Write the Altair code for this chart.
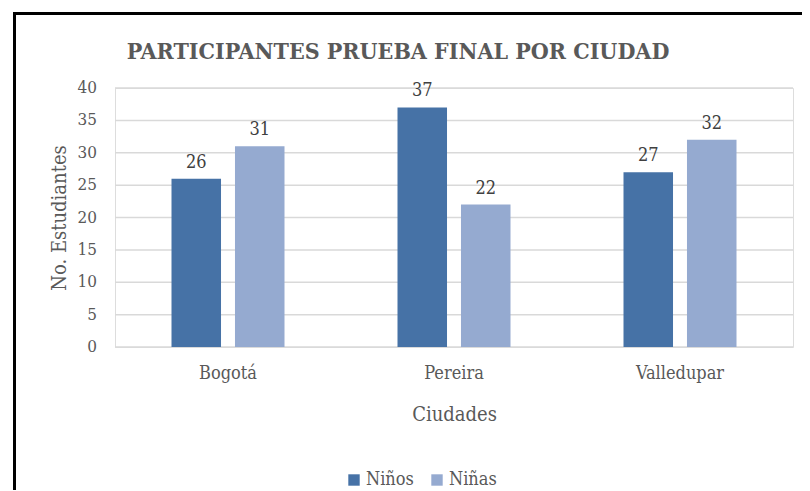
import altair as alt
import pandas as pd

cities = ["Bogotá", "Pereira", "Valledupar"]
series = ["Niños", "Niñas"]
ninos = [26, 37, 27]
ninas = [31, 22, 32]
y_ticks = [0, 5, 10, 15, 20, 25, 30, 35, 40]
colors = ["#4672A6", "#95AAD0"]

rows = []
for c, a, b in zip(cities, ninos, ninas):
    rows.append({"Ciudad": c, "Grupo": "Niños", "Valor": a})
    rows.append({"Ciudad": c, "Grupo": "Niñas", "Valor": b})
df = pd.DataFrame(rows)
ticks_df = pd.DataFrame({"Valor": y_ticks})

FONT = "DejaVu Serif Condensed"
GRAY = "#595959"

yscale = alt.Scale(domain=[0, 40], nice=False)

x = alt.X("Ciudad:N", sort=cities, title="Ciudades",
          scale=alt.Scale(paddingInner=0.5, paddingOuter=0.25),
          axis=alt.Axis(labelAngle=0, labelFontSize=18, labelColor=GRAY, labelFont=FONT,
                        titleFont=FONT, titleFontSize=20, titleColor=GRAY, titleFontWeight="normal",
                        ticks=False, domain=False, grid=False, labelPadding=17, titlePadding=22))
xo = alt.XOffset("Grupo:N", sort=series, scale=alt.Scale(paddingInner=0.22))
y = alt.Y("Valor:Q", title="No. Estudiantes", scale=yscale,
          axis=alt.Axis(labels=False, ticks=False, domain=False, grid=False,
                        titleFont=FONT, titleFontSize=20, titleColor=GRAY, titleFontWeight="normal",
                        titlePadding=46))

grid = alt.Chart(ticks_df).mark_rule(color="#D9D9D9", strokeWidth=1.5).encode(y=y)
ylabels = alt.Chart(ticks_df).mark_text(align="right", baseline="middle", fontSize=17,
                                        font=FONT, color=GRAY, dx=-18).encode(
    y=y, x=alt.value(0), text="Valor:Q"
)

bars = alt.Chart(df).mark_bar().encode(
    x=x, xOffset=xo, y=y,
    color=alt.Color("Grupo:N", sort=series,
                    scale=alt.Scale(domain=series, range=colors),
                    legend=alt.Legend(title=None, orient="none", direction="horizontal",
                                      legendX=230, legendY=383, labelFont=FONT, labelFontSize=18,
                                      labelColor=GRAY, symbolType="square", symbolSize=130,
                                      symbolStrokeWidth=0, columnPadding=14, labelOffset=3)),
)

labels = alt.Chart(df).mark_text(baseline="bottom", dy=-7, fontSize=18, font=FONT, color="#404040").encode(
    x=x, xOffset=xo, y=y,
    text="Valor:Q",
)

frame = alt.Chart(df).mark_rect(fill=None, stroke="black", strokeWidth=3).encode(
    x=alt.value(-100.5), x2=alt.value(800), y=alt.value(-74.5), y2=alt.value(500)
)

chart = alt.layer(grid, ylabels, bars, labels, frame).properties(
    width=678, height=259,
    title=alt.TitleParams("PARTICIPANTES PRUEBA FINAL POR CIUDAD", font=FONT, fontSize=23,
                          fontWeight="bold", color=GRAY, anchor="middle", dx=-56, offset=0,
                          dy=52, frame="group"),
    autosize=alt.AutoSizeParams(type="none"),
    padding={"left": 107, "top": 80, "right": 9, "bottom": 143},
).configure_view(stroke=None).configure(background="white")

chart.save("out.html", embed_options={"renderer": "svg", "actions": False})
